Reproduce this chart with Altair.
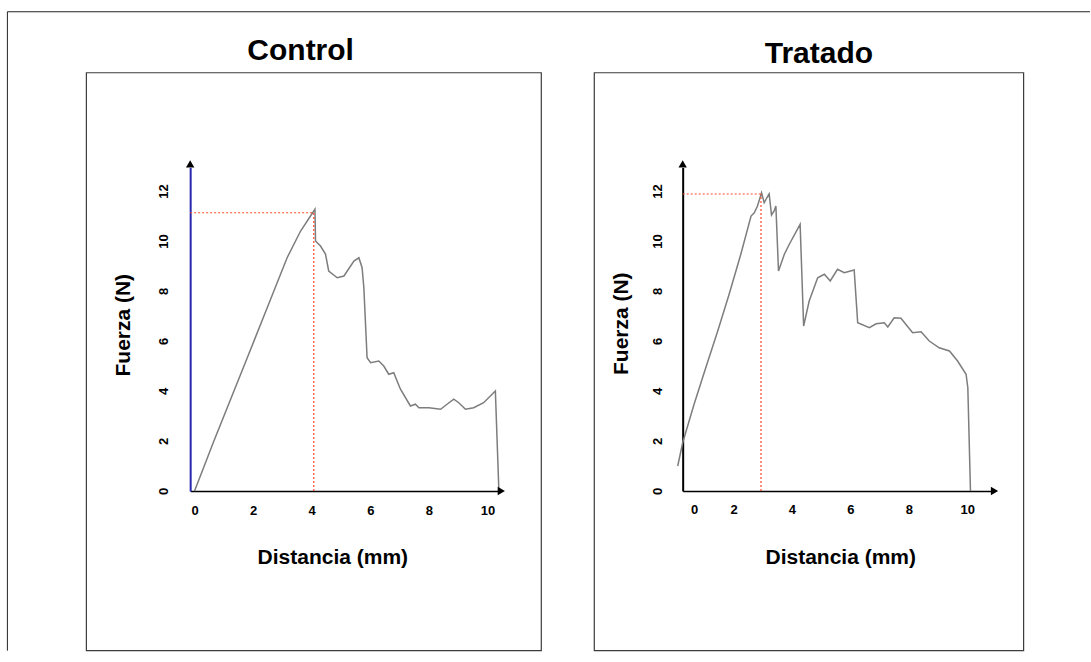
import altair as alt
import pandas as pd

FONT = "Liberation Sans"

# ---------------- data ----------------
ctrl_x = [0, 0.66, 1.80, 2.48, 3.16, 3.62, 4.11, 4.13, 4.30, 4.47, 4.58, 4.87, 5.10,
          5.44, 5.61, 5.72, 5.78, 5.89, 6.01, 6.29, 6.46, 6.63, 6.80, 7.03, 7.37,
          7.54, 7.66, 8.00, 8.40, 8.62, 8.85, 9.02, 9.25, 9.53, 9.87, 10.27, 10.39]
ctrl_y = [0, 2.0, 5.33, 7.33, 9.33, 10.4, 11.27, 10.0, 9.8, 9.48, 8.8, 8.53, 8.6,
          9.2, 9.33, 8.93, 8.13, 5.33, 5.13, 5.2, 5.0, 4.67, 4.73, 4.07, 3.4,
          3.47, 3.33, 3.33, 3.27, 3.47, 3.67, 3.53, 3.27, 3.33, 3.53, 4.0, 0]

trat_x = [0.09, 0.26, 0.65, 1.05, 1.46, 1.85, 2.25, 2.60, 2.71, 2.82, 2.96, 3.05,
          3.14, 3.22, 3.30, 3.39, 3.45, 3.54, 3.74, 3.91, 4.28, 4.40, 4.59, 4.88,
          5.11, 5.31, 5.56, 5.79, 6.13, 6.25, 6.65, 6.88, 7.16, 7.28, 7.50, 7.73,
          8.13, 8.42, 8.70, 9.04, 9.39, 9.67, 9.96, 10.02, 10.11]
trat_y = [1.0, 1.93, 3.47, 4.93, 6.4, 7.87, 9.47, 11.0, 11.13, 11.4, 11.93, 11.53,
          11.73, 11.89, 11.04, 11.2, 11.4, 8.8, 9.47, 9.87, 10.67, 6.6, 7.6, 8.53,
          8.67, 8.4, 8.87, 8.73, 8.84, 6.73, 6.53, 6.69, 6.73, 6.56, 6.93, 6.91,
          6.33, 6.37, 6.0, 5.73, 5.6, 5.2, 4.67, 4.13, 0]

ctrl_peak = [4.07, 11.13]   # (distance, force) marked by the dotted lines
trat_peak = [2.94, 11.88]

y_ticks = [0, 2, 4, 6, 8, 10, 12]
ctrl_xticks = [0, 2, 4, 6, 8, 10]
trat_xticks = [0.65, 2, 4, 6, 8, 10]   # the "0" label sits right of the axis in the original

titles = ["Control", "Tratado"]

# ---------------- layout ----------------
H = 323.5
Y_DOM = [0, 12.94]


def panel(xs, ys, peak, width, xdom, xvals, ycolor, title, title_xy, box,
          xtitle_x, ytitle_x, ytitle_y, ylab_pad, xlab_pad, frame=False):
    xsc = alt.Scale(domain=xdom, nice=False, zero=False)
    ysc = alt.Scale(domain=Y_DOM, nice=False, zero=False)
    df = pd.DataFrame({"x": xs, "y": ys, "i": list(range(len(xs)))})

    xaxis = alt.Axis(
        values=xvals, labelExpr="datum.value < 1 ? '0' : datum.label",
        labelFont=FONT, labelFontWeight="bold", labelFontSize=13, labelColor="black",
        labelPadding=xlab_pad, labelAngle=0, labelFlush=False, labelOverlap=False,
        ticks=False, tickSize=0, grid=False, domainColor="black", domainWidth=1.5,
        title="Distancia (mm)", titleFont=FONT, titleFontSize=21,
        titleFontWeight="bold", titleColor="black", titleX=xtitle_x, titleY=66.5,
        titleAlign="center", titleBaseline="middle", titleAngle=0)
    yaxis = alt.Axis(
        values=y_ticks, labelFont=FONT, labelFontWeight="bold", labelFontSize=13,
        labelColor="black", labelAngle=270, labelAlign="center",
        labelBaseline="middle", labelPadding=ylab_pad, labelFlush=False,
        labelOverlap=False, ticks=False, tickSize=0, grid=False,
        domainColor=ycolor, domainWidth=2,
        title="Fuerza (N)", titleFont=FONT, titleFontSize=21, titleFontWeight="bold",
        titleColor="black", titleAngle=270, titleX=ytitle_x, titleY=ytitle_y,
        titleAlign="center", titleBaseline="middle")

    X = alt.X("x:Q", scale=xsc, axis=xaxis)
    Y = alt.Y("y:Q", scale=ysc, axis=yaxis)

    curve = alt.Chart(df).mark_line(color="#7d7d7d", strokeWidth=1.5, clip=False).encode(
        x=X, y=Y, order="i:Q")

    hdf = pd.DataFrame({"x": [xdom[0]], "x2": [peak[0]], "y": [peak[1]]})
    hline = alt.Chart(hdf).mark_rule(color="#ff4a26", strokeWidth=1.2,
                                     strokeDash=[2, 2]).encode(x=X, x2="x2:Q", y=Y)
    vdf = pd.DataFrame({"x": [peak[0]], "y": [0.0], "y2": [peak[1]]})
    vline = alt.Chart(vdf).mark_rule(color="#ff4a26", strokeWidth=1.2,
                                     strokeDash=[2, 2]).encode(x=X, y=Y, y2="y2:Q")

    one = pd.DataFrame({"a": [0]})
    up = alt.Chart(one).mark_point(shape="triangle-up", filled=True, size=70,
                                   color="black", opacity=1).encode(
        x=alt.value(0), y=alt.value(-3.6))
    right = alt.Chart(one).mark_point(shape="triangle-right", filled=True, size=70,
                                      color="black", opacity=1).encode(
        x=alt.value(width + 3.6), y=alt.value(H))

    boxm = alt.Chart(one).mark_rect(filled=False, stroke="#3c3c3c",
                                    strokeWidth=1.2).encode(
        x=alt.value(box[0]), x2=alt.value(box[1]),
        y=alt.value(box[2]), y2=alt.value(box[3]))

    tt = alt.Chart(pd.DataFrame({"t": [title]})).mark_text(
        font=FONT, fontSize=30, fontWeight="bold", color="black",
        align="center", baseline="alphabetic").encode(
        text="t:N", x=alt.value(title_xy[0]), y=alt.value(title_xy[1]))

    layers = [boxm, curve, hline, vline, up, right, tt]
    if frame:
        f1 = alt.Chart(one).mark_rule(color="#222222", strokeWidth=1).encode(
            x=alt.value(-182.8), y=alt.value(-155.8), y2=alt.value(483.2))
        f2 = alt.Chart(one).mark_rule(color="#222222", strokeWidth=1).encode(
            x=alt.value(-182.8), x2=alt.value(900), y=alt.value(-155.8))
        layers += [f1, f2]

    return alt.layer(*layers).properties(width=width, height=H)


c1 = panel(ctrl_x, ctrl_y, ctrl_peak, 307.6, [-0.15, 10.35], ctrl_xticks, "#2828b0",
           titles[0], (110.5, -107.8), (-103.8, 351.2, -94.8, 483.2),
           142.2, -67, 157.2, 27, 14, frame=True)
c2 = panel(trat_x, trat_y, trat_peak, 308.3, [0.26, 10.81], trat_xticks, "black",
           titles[1], (136.3, -104.8), (-88.4, 341.0, -94.8, 483.2),
           157.6, -61, 155.7, 25, 13)

chart = alt.hconcat(c1, c2, spacing=184.6, bounds="flush", background="white",
                    padding={"left": 6.2, "top": 10.5, "right": 0, "bottom": 0}
                    ).configure_view(stroke="transparent")

chart.save("out.html", embed_options={"renderer": "svg", "actions": False})
